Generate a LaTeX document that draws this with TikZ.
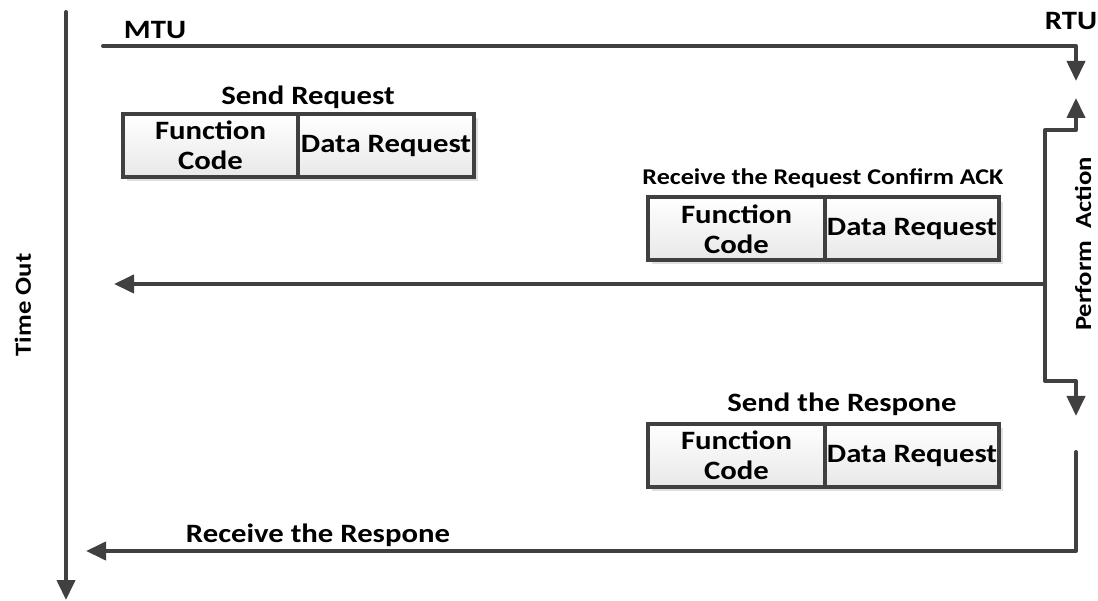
\documentclass[tikz,border=0pt]{standalone}
\usepackage{fontspec}
\setmainfont{Carlito}[FakeStretch=1.16]
\usetikzlibrary{arrows.meta,shadows}
\definecolor{ln}{HTML}{404040}
\begin{document}
\begin{tikzpicture}[x=1pt,y=-1pt,
  conn/.style={draw=ln,line width=4pt,line join=round,line cap=round},
  arr/.style={conn,-{Triangle[width=18pt,length=20pt]}},
  cell/.style={draw=ln,line width=4pt,minimum height=63pt,inner sep=0pt,align=center,
    top color=white,bottom color=black!9,font=\bfseries\fontsize{26.5}{30}\selectfont},
  lbl/.style={font=\bfseries\fontsize{26.5}{30}\selectfont,inner sep=0pt},
  rlbl/.style={font=\bfseries\fontsize{23}{28}\selectfont,inner sep=0pt,rotate=90},
  slbl/.style={font=\bfseries\fontsize{22.5}{26}\selectfont,inner sep=0pt}]
\useasboundingbox (0,0) rectangle (1098,601);
% shadows
\fill[black!12] (127,118) rectangle (478,181);
\fill[black!12] (652,202) rectangle (1003,264);
\fill[black!12] (652,428) rectangle (1003,491);
% boxes
\node[cell,minimum width=175pt] (fc1) at (210.5,145.5) {Function\\Code};
\node[cell,minimum width=176pt] (dr1) at (386,145.5) {Data Request};
\node[cell,minimum width=177pt] (fc2) at (736.5,229) {Function\\Code};
\node[cell,minimum width=174pt] (dr2) at (912,229) {Data Request};
\node[cell,minimum width=177pt] (fc3) at (736.5,455.5) {Function\\Code};
\node[cell,minimum width=174pt] (dr3) at (912,455.5) {Data Request};
% labels
\node[lbl] (sreq) at (308,97) {Send Request};
\node[slbl] (rack) at (823,178) {Receive the Request Confirm ACK};
\node[lbl] (sresp) at (842,404) {Send the Respone};
\node[lbl] (rresp) at (318,535) {Receive the Respone};
\node[lbl] (mtu) at (155,30) {MTU};
\node[lbl] (rtu) at (1071,21) {RTU};
\node[rlbl] (tout) at (23,305) {Time Out};
\node[rlbl] (pact) at (1083,244) {Perform\ \ Action};
% time axis
\coordinate (t0) at (66,12);
\coordinate (t1) at (66,600);
\draw[arr] (t0) -- (t1);
% MTU -> RTU
\coordinate (m0) at (103,46);
\coordinate (r1) at (1076,81);
\draw[arr] (m0) -| (r1);
% perform action bracket
\coordinate (ptop) at (1076,98);
\coordinate (pbot) at (1076,416);
\coordinate (pl) at (1045,130);
\coordinate (pl2) at (1045,381);
\draw[conn,{Triangle[width=18pt,length=20pt]}-{Triangle[width=18pt,length=20pt]}]
  (ptop) |- (pl) -- (pl2) -| (pbot);
% ack arrow
\coordinate (a0) at (1045,284);
\coordinate (a1) at (114,284);
\draw[arr] (a0) -- (a1);
% response arrow
\coordinate (b0) at (1076,452);
\coordinate (b1) at (86,551);
\draw[arr] (b0) |- (b1);
\end{tikzpicture}
\end{document}
